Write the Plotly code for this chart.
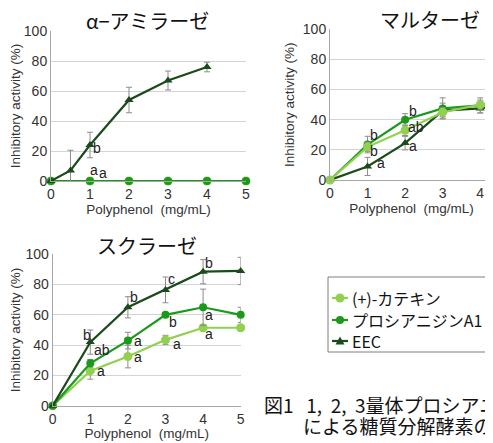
import plotly.graph_objects as go

W, H = 493, 443
OFF = 8  # page body margin
FW, FH = W - OFF, H - OFF

# ---------------- data ----------------
series_names = ["(+)-カテキン", "プロシアニジンA1", "EEC"]
colors = ["#92D050", "#1A9A1A", "#1B4A1B"]
symbols = ["circle", "circle", "triangle-up"]
msizes = [9, 8, 8]

# α-アミラーゼ
amy_x = [0, 1, 2, 3, 4, 5]
amy_cat = [0, 0, 0, 0, 0, 0]
amy_a1 = [0, 0, 0, 0, 0, 0]
amy_eec_x = [0, 0.5, 1, 2, 3, 4]
amy_eec = [0, 7, 24, 54, 67, 76]
amy_eec_err = [0, 13.5, 8.5, 8.5, 6.3, 3.2]

# マルターゼ
mal_x = [0, 1, 2, 3, 4, 5]
mal_cat = [0, 22, 33, 45, 50, 53]
mal_cat_err = [0, 3, 3.5, 3, 3, 3]
mal_a1 = [0, 23.5, 40, 47.5, 49.5, 56]
mal_a1_err = [0, 5.5, 4, 7, 5, 5]
mal_eec = [0, 9, 24.5, 46, 47.5, 52]
mal_eec_err = [0, 6, 4.5, 5, 3, 3]

# スクラーゼ
suc_x = [0, 1, 2, 3, 4, 5]
suc_cat = [0, 23, 32.5, 43.5, 51.5, 51.5]
suc_cat_err = [0, 5.5, 7.5, 3, 2, 2]
suc_a1 = [0, 28, 43, 60, 65, 60]
suc_a1_err = [0, 2.5, 5.5, 1.5, 12, 5]
suc_eec = [0, 42, 65, 76.5, 88.5, 89]
suc_eec_err = [0, 8, 7, 8.5, 8, 9]

# significance letters (x, y, text)
amy_letters = [(1.1, 7.5, "a"), (1.33, 5.5, "a"), (1.18, 22, "b")]
mal_letters = [(1.18, 30, "b"), (1.18, 19, "b"), (1.37, 11.5, "a"),
               (2.2, 46, "b"), (2.3, 35.5, "ab"), (2.22, 22.5, "a")]
suc_letters = [(0.9, 47, "b"), (2.15, 72, "b"), (3.15, 84, "c"), (4.15, 94, "b"), (5.18, 92.5, "b"),
               (1.3, 36.5, "ab"), (2.28, 42.5, "a"), (3.2, 55, "b"), (4.15, 60, "a"), (5.18, 58, "a"),
               (1.28, 23, "a"), (2.28, 32, "a"), (3.3, 41, "a"), (4.15, 47.5, "a"), (5.18, 47, "a")]

caption_1 = "図1\u00a0\u00a0\u00a01,\u00a0\u00a02,\u00a0\u00a03量体プロシアニジン"
caption_2 = "による糖質分解酵素の阻害"

# ---------------- geometry helpers ----------------
def px_x(p):
    return (p - OFF) / FW

def px_y(p):
    return 1 - (p - OFF) / FH

fig = go.Figure()

axes = {
    # name: (xdomain, ydomain, xrange)
    "1": ([px_x(51), px_x(246)], [px_y(181), px_y(31)], [0, 5]),
    "2": ([px_x(330), 1.0], [px_y(180), px_y(29.3)], [0, (W - 330) / 37.56]),
    "3": ([px_x(52.7), px_x(240.7)], [px_y(405.7), px_y(254.3)], [0, 5]),
}

tickfont = dict(family="Liberation Sans, Arial", size=14, color="#333333")
titlefont_ax = dict(family="Liberation Sans, Arial", size=13.5, color="#333333")
for k, (xd, yd, xr) in axes.items():
    xa = "xaxis" if k == "1" else f"xaxis{k}"
    ya = "yaxis" if k == "1" else f"yaxis{k}"
    fig.layout[xa] = dict(domain=xd, range=xr, anchor="y" if k == "1" else f"y{k}",
                          tickmode="array", tickvals=[0, 1, 2, 3, 4, 5], ticks="", showgrid=False,
                          showline=True, linecolor="#A6A6A6", linewidth=1, zeroline=False,
                          tickfont=tickfont, ticklen=0,
                          title=dict(text="Polyphenol  (mg/mL)", font=titlefont_ax, standoff=0))
    fig.layout[ya] = dict(domain=yd, range=[0, 100], anchor="x" if k == "1" else f"x{k}",
                          tickvals=[0, 20, 40, 60, 80, 100], showgrid=True, gridcolor="#D4D4D4",
                          gridwidth=1, showline=True, linecolor="#A6A6A6", linewidth=1,
                          zeroline=False, ticks="", tickfont=tickfont,
                          title=dict(text="Inhibitory activity (%)", font=titlefont_ax, standoff=5))


def add(xs, ys, errs, idx, k):
    xref = "x" if k == "1" else f"x{k}"
    yref = "y" if k == "1" else f"y{k}"
    fig.add_trace(go.Scatter(
        x=xs, y=ys, mode="lines+markers", name=series_names[idx], showlegend=False,
        xaxis=xref, yaxis=yref, cliponaxis=False,
        line=dict(color=colors[idx], width=2.2),
        marker=dict(symbol=symbols[idx], size=msizes[idx], color=colors[idx]),
        error_y=dict(type="data", array=errs, visible=True, color="#8C8C8C",
                     thickness=1, width=3) if errs is not None else None,
    ))


add(amy_x, amy_cat, None, 0, "1")
add(amy_x, amy_a1, None, 1, "1")
add(amy_eec_x, amy_eec, amy_eec_err, 2, "1")

add(mal_x, mal_eec, mal_eec_err, 2, "2")
add(mal_x, mal_a1, mal_a1_err, 1, "2")
add(mal_x, mal_cat, mal_cat_err, 0, "2")

add(suc_x, suc_cat, suc_cat_err, 0, "3")
add(suc_x, suc_a1, suc_a1_err, 1, "3")
add(suc_x, suc_eec, suc_eec_err, 2, "3")

annotations = []
letterfont = dict(family="Liberation Sans, Arial", size=14, color="#222222")
for k, letters in (("1", amy_letters), ("2", mal_letters), ("3", suc_letters)):
    xref = "x" if k == "1" else f"x{k}"
    yref = "y" if k == "1" else f"y{k}"
    for (lx, ly, t) in letters:
        annotations.append(dict(x=lx, y=ly, xref=xref, yref=yref, text=t, showarrow=False,
                                font=letterfont, xanchor="center", yanchor="middle"))

titlefont = dict(family="Noto Sans CJK JP", size=20, color="#111111")
capfont = dict(family="Noto Sans CJK JP", size=19, color="#111111")
annotations += [
    dict(x=px_x(147), y=px_y(20), xref="paper", yref="paper", text="α−アミラーゼ", showarrow=False,
         font=titlefont, xanchor="center", yanchor="middle"),
    dict(x=px_x(430), y=px_y(19), xref="paper", yref="paper", text="マルターゼ", showarrow=False,
         font=titlefont, xanchor="center", yanchor="middle"),
    dict(x=px_x(147), y=px_y(245), xref="paper", yref="paper", text="スクラーゼ", showarrow=False,
         font=titlefont, xanchor="center", yanchor="middle"),
    dict(x=px_x(262), y=px_y(404), xref="paper", yref="paper", text=caption_1,
         showarrow=False, font=capfont, xanchor="left", yanchor="middle"),
    dict(x=px_x(301), y=px_y(425), xref="paper", yref="paper", text=caption_2,
         showarrow=False, font=capfont, xanchor="left", yanchor="middle"),
]

# ---------------- manual legend ----------------
shapes = [dict(type="rect", xref="paper", yref="paper", x0=px_x(328), x1=px_x(520),
               y0=px_y(352), y1=px_y(277), line=dict(color="#7F7F7F", width=1),
               fillcolor="white", layer="below")]
leg_y = [298, 320, 341]
legfont = dict(family="Noto Sans CJK JP", size=16, color="#111111")
for i, ly in enumerate(leg_y):
    shapes.append(dict(type="line", xref="paper", yref="paper", x0=px_x(332), x1=px_x(348),
                       y0=px_y(ly), y1=px_y(ly), line=dict(color=colors[i], width=2.2)))
    cx = 340
    if symbols[i] == "circle":
        r = 4.5 if i == 0 else 4
        shapes.append(dict(type="circle", xref="paper", yref="paper",
                           x0=px_x(cx - r), x1=px_x(cx + r), y0=px_y(ly + r), y1=px_y(ly - r),
                           line=dict(width=0), fillcolor=colors[i]))
    else:
        pts = [(cx - 4.5, ly + 3.5), (cx + 4.5, ly + 3.5), (cx, ly - 4.5)]
        path = "M " + " L ".join(f"{px_x(a):.5f},{px_y(b):.5f}" for a, b in pts) + " Z"
        shapes.append(dict(type="path", xref="paper", yref="paper", path=path,
                           line=dict(width=0), fillcolor=colors[i]))
    annotations.append(dict(x=px_x(350), y=px_y(ly), xref="paper", yref="paper",
                            text=series_names[i], showarrow=False, font=legfont,
                            xanchor="left", yanchor="middle"))

fig.update_layout(
    width=FW, height=FH, margin=dict(l=0, r=0, t=0, b=0, autoexpand=False),
    paper_bgcolor="white", plot_bgcolor="white",
    annotations=annotations, shapes=shapes, showlegend=False,
)

fig.write_html("out.html")
